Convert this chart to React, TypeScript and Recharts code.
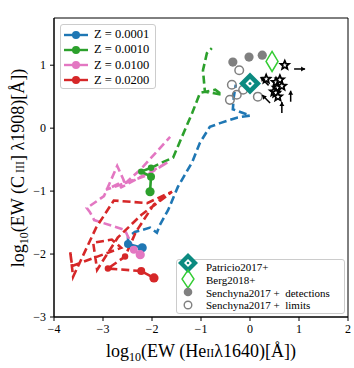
import React from 'react';
import { ComposedChart, Scatter, XAxis, YAxis, ReferenceArea } from 'recharts';

type P = [number, number];

const SERIF = '"Liberation Serif", "DejaVu Serif", serif';

const metallicities = ['0.0001', '0.0010', '0.0100', '0.0200'];
const trackColors = ['#1f77b4', '#2ca02c', '#e377c2', '#d62728'];

// model tracks: marked head points, then dashed path
const blueHead: P[] = [[-2.2, -1.9], [-2.49, -1.84]];
const blueTrack: P[] = [
  [-2.49, -1.84], [-2.49, -1.73], [-2.35, -1.65], [-2.04, -1.58], [-1.9, -1.66], [-1.84, -1.54],
  [-1.67, -1.3], [-1.47, -0.93], [-1.18, -0.54], [-1.02, -0.23], [-0.82, 0.02], [-0.61, 0.08],
  [-0.25, 0.17], [0.0, 0.2], [-0.35, 0.3], [-0.33, 0.5], [-0.29, 0.69],
];

const greenHead: P[] = [[-2.04, -1.01], [-2.02, -0.77], [-2.22, -0.69], [-2.02, -0.63]];
const greenTrack: P[] = [
  [-2.02, -0.63], [-1.78, -0.54], [-1.57, -0.47], [-1.39, -0.14], [-1.18, 0.24], [-1.02, 0.56],
  [-0.71, 0.61], [-0.57, 0.53], [-0.92, 0.58], [-0.96, 0.92], [-0.88, 1.19], [-0.78, 1.27],
];

const pinkHead: P[] = [[-2.24, -2.01], [-2.37, -1.93]];
const pinkTrack: P[] = [
  [-2.37, -1.93], [-2.55, -1.62], [-3.18, -1.46], [-3.27, -1.33], [-3.33, -1.27], [-2.98, -1.08],
  [-2.71, -0.6], [-2.57, -0.84], [-2.94, -0.98], [-2.14, -0.76], [-1.67, -0.54], [-2.65, -0.95],
  [-2.24, -0.66], [-1.63, -0.14],
];

const redHead: P[] = [[-1.96, -2.38], [-2.22, -2.27], [-2.9, -2.23], [-2.55, -2.04]];
const redTrack: P[] = [
  [-2.22, -2.27], [-2.9, -2.23], [-2.55, -2.04], [-2.33, -1.65], [-1.96, -1.21], [-1.59, -1.01],
  [-2.22, -1.38], [-2.7, -1.74], [-3.12, -2.25], [-3.2, -1.82], [-2.82, -1.77], [-2.63, -1.9],
  [-3.63, -2.19], [-3.67, -1.96], [-3.61, -2.36], [-3.14, -1.58], [-2.78, -1.15], [-2.1, -1.19],
  [-1.59, -1.01],
];

// number of head points joined by a solid line
const solidHead = [2, 4, 2, 2];

// observations
const patricio: P[] = [[0.0, 0.71]];
const berg: P[] = [[0.45, 1.06]];
const senchynaDetections: P[] = [[-0.35, 1.05], [-0.02, 1.13], [0.25, 1.16]];
const senchynaLimits: P[] = [[-0.22, 0.92], [-0.37, 0.69], [-0.14, 0.61], [-0.27, 0.53], [-0.41, 0.45], [0.16, 0.5]];
const stars: P[] = [[0.71, 1.0], [0.53, 0.73], [0.61, 0.77], [0.55, 0.64], [0.65, 0.67], [0.49, 0.58], [0.53, 0.56], [0.57, 0.5], [0.33, 0.78]];
const arrowPoints: P[] = [[0.9, 0.94], [0.83, 0.42], [0.65, 0.24], [0.41, 0.4], [0.38, 0.68]];
const arrowDirs = ['right', 'up', 'up', 'upleft', 'upleft'];

const xTicks = [-4, -3, -2, -1, 0, 1, 2];
const yTicks = [-3, -2, -1, 0, 1];

const toXY = (pts: P[]) => pts.map(([x, y], i) => ({ x, y, i }));

const tracks = [
  { head: blueHead, path: blueTrack },
  { head: greenHead, path: greenTrack },
  { head: pinkHead, path: pinkTrack },
  { head: redHead, path: redTrack },
];

const fmt = (v: number) => (v < 0 ? `\u2212${-v}` : `${v}`);

const Empty = () => <g />;

const StarShape = (props: any) => {
  const { cx, cy } = props;
  const outer: string[] = [];
  const inner: string[] = [];
  for (let k = 0; k < 10; k++) {
    const a = -Math.PI / 2 + (k * Math.PI) / 5;
    const r = k % 2 === 0 ? 5.2 : 2.3;
    const ri = k % 2 === 0 ? 2.2 : 1;
    outer.push(`${cx + r * Math.cos(a)},${cy + r * Math.sin(a)}`);
    inner.push(`${cx + ri * Math.cos(a)},${cy + ri * Math.sin(a)}`);
  }
  return (
    <g>
      <polygon points={outer.join(' ')} fill="#000" stroke="#000" strokeWidth={1.2} />
      <polygon points={inner.join(' ')} fill="#fff" />
    </g>
  );
};

const ArrowShape = (props: any) => {
  const { cx, cy, payload } = props;
  const dir = arrowDirs[payload.i];
  const L = 11;
  let dx = 0, dy = 0;
  if (dir === 'right') dx = 1;
  else if (dir === 'up') dy = -1;
  else { dx = -0.72; dy = -0.72; }
  const ex = cx + dx * L, ey = cy + dy * L;
  const px = -dy, py = dx;
  const hx = ex - dx * 4, hy = ey - dy * 4;
  return (
    <g>
      <line x1={cx} y1={cy} x2={ex} y2={ey} stroke="#000" strokeWidth={1.5} />
      <polygon points={`${ex},${ey} ${hx + px * 2.5},${hy + py * 2.5} ${hx - px * 2.5},${hy - py * 2.5}`} fill="#000" />
    </g>
  );
};

const PatricioShape = (props: any) => {
  const { cx, cy } = props;
  return (
    <g>
      <polygon points={`${cx},${cy - 11} ${cx + 11},${cy} ${cx},${cy + 11} ${cx - 11},${cy}`} fill="#0b8a80" />
      <polygon points={`${cx},${cy - 4.5} ${cx + 4.5},${cy} ${cx},${cy + 4.5} ${cx - 4.5},${cy}`} fill="#fff" />
      <circle cx={cx} cy={cy} r={1.5} fill="#0b8a80" />
    </g>
  );
};

const BergShape = (props: any) => {
  const { cx, cy } = props;
  return (
    <polygon points={`${cx},${cy - 10} ${cx + 6},${cy} ${cx},${cy + 10} ${cx - 6},${cy}`} fill="none" stroke="#33cc33" strokeWidth={1.5} />
  );
};

const headDot = (color: string) => (props: any) => {
  const { cx, cy, payload } = props;
  const r = payload.i === 0 ? 4.6 : payload.i === 1 ? 4 : 3.2;
  return <circle cx={cx} cy={cy} r={r} fill={color} />;
};

const XTitle = () => (
  <text x={201} y={357} textAnchor="middle" fontFamily={SERIF} fontSize={18} fill="#000">
    log<tspan fontSize={12} dy={4}>10</tspan>
    <tspan dy={-4}>(EW (He</tspan>
    <tspan fontSize={12}>II</tspan>
    <tspan>λ1640)[Å])</tspan>
  </text>
);

const YTitle = () => (
  <text x={0} y={0} transform="translate(24,168) rotate(-90)" textAnchor="middle" fontFamily={SERIF} fontSize={18} fill="#000">
    log<tspan fontSize={12} dy={4}>10</tspan>
    <tspan dy={-4}>(EW (C</tspan>
    <tspan fontSize={12}> III</tspan>
    <tspan>] λ1908)[Å])</tspan>
  </text>
);

const legendBox: React.CSSProperties = {
  position: 'absolute',
  background: 'rgba(255,255,255,0.85)',
  border: '1px solid #cccccc',
  borderRadius: 3,
  boxSizing: 'border-box',
};

export default function App() {
  return (
    <div style={{ position: 'absolute', left: 0, top: 0, width: 354, height: 368, background: '#fff' }}>
      <ComposedChart width={354} height={368} margin={{ top: 18, right: 6, bottom: 0, left: 0 }}>
        <XAxis
          type="number"
          dataKey="x"
          domain={[-4, 2]}
          ticks={xTicks}
          tickFormatter={fmt}
          height={51}
          tickSize={4}
          tickMargin={3}
          allowDataOverflow
          stroke="#000"
          tick={{ fill: '#000', fontSize: 12, fontFamily: SERIF }}
          label={<XTitle />}
        />
        <YAxis
          type="number"
          dataKey="y"
          domain={[-3, 1.75]}
          ticks={yTicks}
          tickFormatter={fmt}
          width={54}
          tickSize={4}
          tickMargin={4}
          allowDataOverflow
          stroke="#000"
          tick={{ fill: '#000', fontSize: 12, fontFamily: SERIF }}
          label={<YTitle />}
        />
        {tracks.map((t, k) => (
          <Scatter
            key={`path-${k}`}
            data={toXY(t.path)}
            line={{ stroke: trackColors[k], strokeWidth: 2.6, strokeDasharray: '8 4' }}
            lineType="joint"
            shape={Empty}
            isAnimationActive={false}
          />
        ))}
        {tracks.map((t, k) => (
          <Scatter
            key={`headline-${k}`}
            data={toXY(t.head.slice(0, solidHead[k]))}
            line={{ stroke: trackColors[k], strokeWidth: 2.6 }}
            lineType="joint"
            shape={Empty}
            isAnimationActive={false}
          />
        ))}
        {tracks.map((t, k) => (
          <Scatter
            key={`head-${k}`}
            data={toXY(t.head)}
            shape={headDot(trackColors[k])}
            isAnimationActive={false}
          />
        ))}
        <Scatter data={toXY(senchynaDetections)} shape={(p: any) => <circle cx={p.cx} cy={p.cy} r={4.6} fill="#808080" />} isAnimationActive={false} />
        <Scatter data={toXY(senchynaLimits)} shape={(p: any) => <circle cx={p.cx} cy={p.cy} r={4.3} fill="none" stroke="#808080" strokeWidth={1.5} />} isAnimationActive={false} />
        <Scatter data={toXY(arrowPoints)} shape={ArrowShape} isAnimationActive={false} />
        <Scatter data={toXY(stars)} shape={StarShape} isAnimationActive={false} />
        <Scatter data={toXY(berg)} shape={BergShape} isAnimationActive={false} />
        <Scatter data={toXY(patricio)} shape={PatricioShape} isAnimationActive={false} />
        <ReferenceArea x1={-4} x2={2} y1={-3} y2={1.75} fill="none" stroke="#000" strokeWidth={1} ifOverflow="visible" />
      </ComposedChart>

      <div style={{ ...legendBox, left: 60, top: 24, width: 96, height: 65, fontFamily: SERIF, fontSize: 12.5 }}>
        {metallicities.map((z, k) => (
          <div key={z} style={{ position: 'absolute', left: 2, top: 2 + k * 15.3, height: 15, display: 'flex', alignItems: 'center' }}>
            <svg width={26} height={12}>
              <line x1={1} y1={6} x2={25} y2={6} stroke={trackColors[k]} strokeWidth={2.4} />
              <circle cx={13} cy={6} r={4} fill={trackColors[k]} />
            </svg>
            <span style={{ marginLeft: 5, whiteSpace: 'nowrap' }}>Z = {z}</span>
          </div>
        ))}
      </div>

      <div style={{ ...legendBox, left: 176, top: 259, width: 169, height: 55, fontFamily: SERIF, fontSize: 11 }}>
        {['Patricio2017+', 'Berg2018+', 'Senchyna2017 +  detections', 'Senchyna2017 +  limits'].map((t, k) => (
          <div key={t} style={{ position: 'absolute', left: 29, top: 1 + k * 12.8, height: 13, lineHeight: '13px', whiteSpace: 'pre' }}>{t}</div>
        ))}
      </div>
      <svg style={{ position: 'absolute', left: 0, top: 0, pointerEvents: 'none' }} width={354} height={368}>
        <polygon points="188,253 198,263 188,273 178,263" fill="#0b8a80" />
        <polygon points="188,259 192,263 188,267 184,263" fill="#fff" />
        <circle cx={188} cy={263} r={1.3} fill="#0b8a80" />
        <polygon points="188,270 194,279 188,288 182,279" fill="none" stroke="#33cc33" strokeWidth={1.4} />
        <circle cx={188} cy={292} r={4.3} fill="#808080" />
        <circle cx={188} cy={305} r={3.8} fill="none" stroke="#808080" strokeWidth={1.4} />
      </svg>
    </div>
  );
}
